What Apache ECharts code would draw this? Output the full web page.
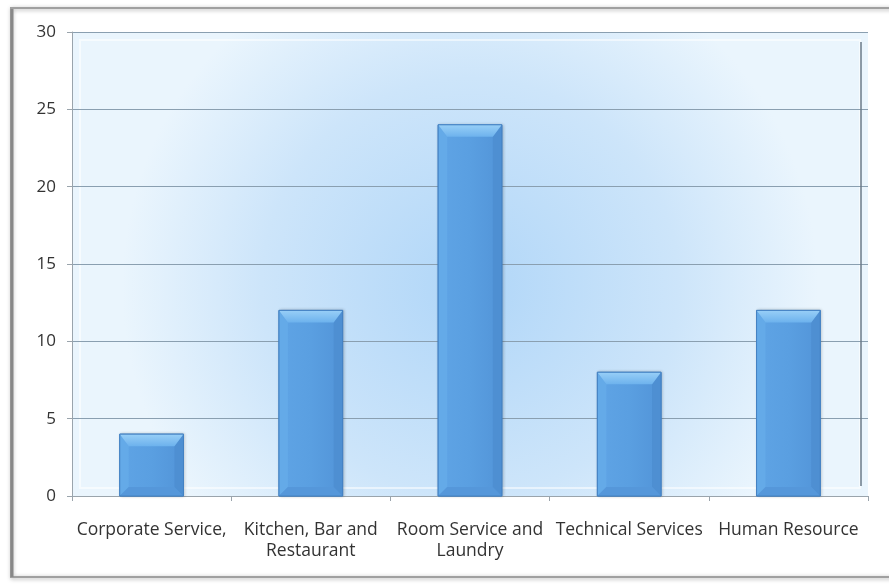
<!DOCTYPE html>
<html><head><meta charset="utf-8">
<script src="https://cdn.jsdelivr.net/npm/echarts@6/dist/echarts.min.js"></script>
<style>html,body{margin:0;padding:0;background:#fff}#c{width:889px;height:586px}</style>
</head><body><div id="c"></div>
<script>
var categories = ["Corporate Service,", "Kitchen, Bar and\nRestaurant", "Room Service and\nLaundry", "Technical Services", "Human Resource"];
var values = [4, 12, 24, 8, 12];
var yTicks = {min: 0, max: 30, interval: 5};

function renderBevelBar(params, api) {
  var idx = api.value(0);
  var v = api.value(1);
  var top = api.coord([idx, v]);
  var base = api.coord([idx, 0]);
  var bw = api.size([1, 0])[0] * 0.4;
  var x0 = top[0] - bw / 2, x1 = top[0] + bw / 2;
  var y0 = top[1], yb = base[1];
  var h = yb - y0;
  var bx = Math.min(9, bw / 2), by = Math.min(12, h / 2);
  var bxs = Math.min(bx, h / 2);
  return {
    type: 'group',
    children: [
      {type: 'rect', shape: {x: x0, y: y0, width: bw, height: h}, style: {fill: {type: 'linear', x: 0, y: 0, x2: 1, y2: 0, colorStops: [{offset: 0, color: '#5fa4e5'}, {offset: 0.5, color: '#5a9fe1'}, {offset: 1, color: '#5294d8'}]}, stroke: '#4280c2', lineWidth: 1, shadowColor: 'rgba(0,0,0,0.2)', shadowBlur: 3, shadowOffsetX: 1}},
      {type: 'polygon', shape: {points: [[x0, y0], [x0 + bx, y0 + by], [x0 + bx, yb - bxs], [x0, yb]]}, style: {fill: '#64aae8'}},
      {type: 'polygon', shape: {points: [[x1, y0], [x1 - bx, y0 + by], [x1 - bx, yb - bxs], [x1, yb]]}, style: {fill: '#4e8fd2'}},
      {type: 'polygon', shape: {points: [[x0, yb], [x0 + bx, yb - bxs], [x1 - bx, yb - bxs], [x1, yb]]}, style: {fill: '#5597da'}},
      {type: 'polygon', shape: {points: [[x0, y0], [x1, y0], [x1 - bx, y0 + by], [x0 + bx, y0 + by]]}, style: {fill: {type: 'linear', x: 0, y: 0, x2: 0, y2: 1, colorStops: [{offset: 0, color: '#98cff7'}, {offset: 1, color: '#6db2ed'}]}}},
      {type: 'rect', shape: {x: x0, y: y0, width: bw, height: h}, style: {fill: 'none', stroke: '#4582c3', lineWidth: 1}}
    ]
  };
}

var chart = echarts.init(document.getElementById('c'));
chart.setOption({
  animation: false,
  graphic: [
    {type: 'rect', shape: {x: 11, y: 8, width: 900, height: 569}, style: {fill: 'rgba(0,0,0,0)', stroke: '#a0a0a0', lineWidth: 2, shadowBlur: 4, shadowColor: 'rgba(0,0,0,0.35)', shadowOffsetX: 1, shadowOffsetY: 1}, z: 10},
    {type: 'line', shape: {x1: 12, y1: 9, x2: 12, y2: 577}, style: {stroke: '#888', lineWidth: 3}, z: 11},
    {type: 'rect', shape: {x: 80, y: 40, width: 780, height: 448}, style: {fill: 'rgba(0,0,0,0)', stroke: 'rgba(255,255,255,0.55)', lineWidth: 2}, z: 0},
    {type: 'line', shape: {x1: 861, y1: 42, x2: 861, y2: 486}, style: {stroke: '#6a7a88', lineWidth: 1.5}, z: 1}
  ],
  grid: {left: 72, right: 21, top: 32, bottom: 90, containLabel: false,
    show: true, borderWidth: 0,
    backgroundColor: {type: 'radial', x: 0.5, y: 0.55, r: 0.75, colorStops: [
      {offset: 0, color: '#b0d6f8'}, {offset: 0.6, color: '#cde5fa'}, {offset: 1, color: '#eaf5fd'}]}
  },
  xAxis: {
    type: 'category', data: categories, boundaryGap: true,
    axisLine: {lineStyle: {color: '#9aa4ac', width: 1}},
    axisTick: {show: true, alignWithLabel: false, length: 5, lineStyle: {color: '#9aa4ac'}},
    axisLabel: {interval: 0, color: '#333', fontFamily: 'Open Sans', fontSize: 17.5, lineHeight: 21, margin: 24}
  },
  yAxis: {
    type: 'value', min: yTicks.min, max: yTicks.max, interval: yTicks.interval,
    axisLine: {show: true, lineStyle: {color: '#9aa4ac'}},
    axisTick: {show: true, length: 5, lineStyle: {color: '#9aa4ac'}},
    splitLine: {lineStyle: {color: '#8a9fb0', width: 1}},
    axisLabel: {color: '#333', fontFamily: 'Open Sans', fontSize: 17, margin: 16}
  },
  series: [{
    type: 'custom', renderItem: renderBevelBar,
    data: values.map(function (v, i) { return [i, v]; }),
    encode: {x: 0, y: 1}
  }]
});
</script></body></html>
